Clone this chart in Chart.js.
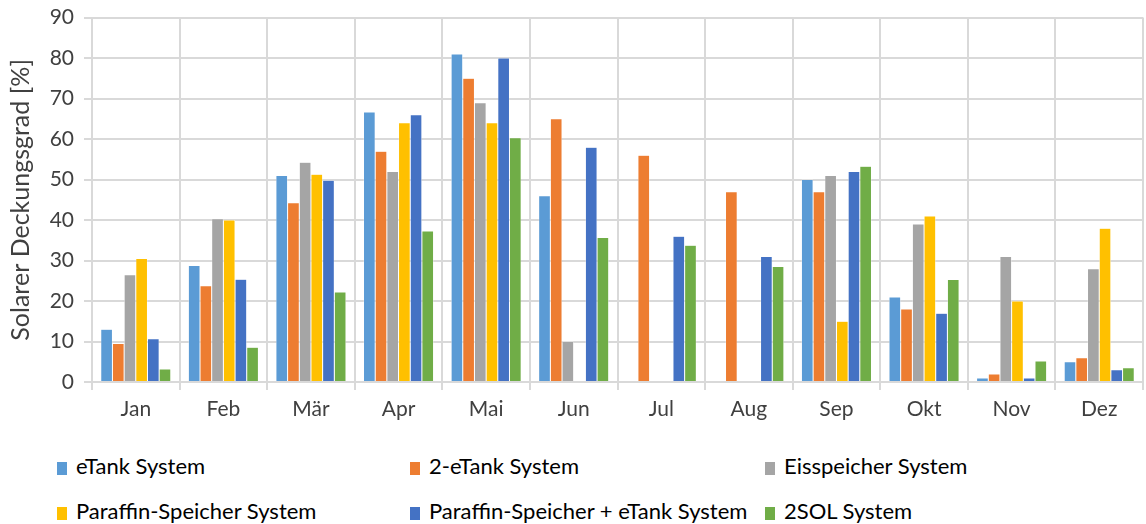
<!DOCTYPE html>
<html>
<head>
<meta charset="utf-8">
<script src="https://cdn.jsdelivr.net/npm/chart.js@4"></script>
<style>
    body { margin: 0; background: #fff; font-family: Lato, sans-serif; }
    .wrap { position: relative; width: 1146px; height: 524px; overflow: hidden; }
    #chartBox { position: absolute; left: 0; top: -5px; width: 1146px; height: 445px; }
    .legend { position: absolute; left: 0; top: 440px; width: 1146px; height: 84px; }
    .item { position: absolute; font-size: 22px; color: #000; line-height: 26px; white-space: nowrap; }
    .item span.box { display: inline-block; width: 10px; height: 13px; margin-right: 9px; vertical-align: -1px; }
</style>
</head>
<body>
<div class="wrap">
    <div id="chartBox"><canvas id="solarChart"></canvas></div>
    <div class="legend" id="legend"></div>
</div>
<script>
const months = ['Jan', 'Feb', 'Mär', 'Apr', 'Mai', 'Jun', 'Jul', 'Aug', 'Sep', 'Okt', 'Nov', 'Dez'];
const seriesNames = ['eTank System', '2-eTank System', 'Eisspeicher System', 'Paraffin-Speicher System', 'Paraffin-Speicher + eTank System', '2SOL System'];
const seriesColors = ['#5B9BD5', '#ED7D31', '#A5A5A5', '#FFC000', '#4472C4', '#70AD47'];

const eTank       = [13, 28.8, 51, 66.7, 81, 46, 0, 0, 50, 21, 1, 5];
const twoETank    = [9.5, 23.8, 44.3, 57, 75, 65, 56, 47, 47, 18, 2, 6];
const eisspeicher = [26.5, 40.3, 54.3, 52, 69, 10, 0, 0, 51, 39, 31, 28];
const paraffin    = [30.5, 40, 51.3, 64, 64, 0, 0, 0, 15, 41, 20, 38];
const paraffinE   = [10.7, 25.4, 49.8, 66, 80, 58, 36, 31, 52, 17, 1, 3];
const twoSol      = [3.2, 8.6, 22.2, 37.3, 60.3, 35.7, 33.8, 28.5, 53.3, 25.3, 5.2, 3.5];

const yTicks = [0, 10, 20, 30, 40, 50, 60, 70, 80, 90];

const allSeries = [eTank, twoETank, eisspeicher, paraffin, paraffinE, twoSol];
const gridColor = '#d9d9d9';
const textColor = '#404040';

const ctx = document.getElementById('solarChart').getContext('2d');
const solarChart = new Chart(ctx, {
    type: 'bar',
    data: {
        labels: months,
        datasets: allSeries.map((vals, i) => ({
            label: seriesNames[i],
            data: vals,
            backgroundColor: seriesColors[i],
            borderColor: '#ffffff',
            borderWidth: 0.5,
            barPercentage: 1.0,
            categoryPercentage: 0.8
        }))
    },
    options: {
        responsive: true,
        maintainAspectRatio: false,
        animation: false,
        layout: { padding: { top: 11, right: 3, left: 0, bottom: 0 } },
        plugins: {
            legend: { display: false },
            tooltip: { enabled: false }
        },
        scales: {
            x: {
                grid: { color: gridColor, lineWidth: 2, offset: true, tickLength: 8, drawTicks: true },
                border: { color: gridColor, width: 2 },
                ticks: { color: textColor, font: { family: 'Lato', size: 21 }, padding: 7 },
                afterFit: (scale) => { scale.height = 58; }
            },
            y: {
                min: 0,
                max: 90,
                afterBuildTicks: (scale) => { scale.ticks = yTicks.map(v => ({ value: v })); },
                grid: { color: gridColor, lineWidth: 2, tickLength: 8 },
                border: { display: false },
                ticks: { color: textColor, font: { family: 'Lato', size: 21 }, padding: 10 },
                title: {
                    display: true,
                    text: 'Solarer Deckungsgrad [%]',
                    color: textColor,
                    font: { family: 'Lato', size: 25 },
                    padding: { top: 6, bottom: 0 }
                },
                afterFit: (scale) => { scale.width = 92; }
            }
        }
    }
});

// legend in three columns, two rows
const legendPos = [[57, 13], [410, 13], [765, 13], [57, 58], [410, 58], [765, 58]];
const legendEl = document.getElementById('legend');
seriesNames.forEach((name, i) => {
    const item = document.createElement('div');
    item.className = 'item';
    item.style.left = legendPos[i][0] + 'px';
    item.style.top = legendPos[i][1] + 'px';
    item.innerHTML = '<span class="box" style="background:' + seriesColors[i] + '"></span>' + name;
    legendEl.appendChild(item);
});
</script>
</body>
</html>
